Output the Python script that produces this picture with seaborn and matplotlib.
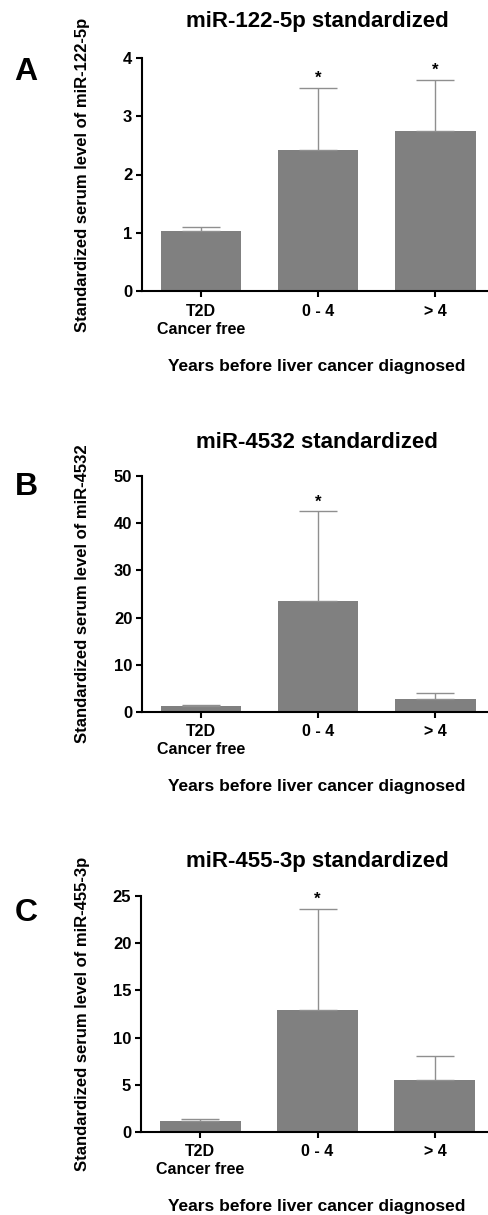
import numpy as np
import pandas as pd
import matplotlib
matplotlib.use("Agg")
import matplotlib.pyplot as plt
import seaborn as sns

# ---- data ----
categories = ["T2D\nCancer free", "0 - 4", "> 4"]

titles = ["miR-122-5p standardized", "miR-4532 standardized", "miR-455-3p standardized"]
ylabels = ["Standardized serum level of miR-122-5p",
           "Standardized serum level of miR-4532",
           "Standardized serum level of miR-455-3p"]
panel_letters = ["A", "B", "C"]

means_a = [1.03, 2.42, 2.74]
upper_a = [1.10, 3.48, 3.63]
means_b = [1.3, 23.5, 2.65]
upper_b = [1.5, 42.5, 3.95]
means_c = [1.13, 12.9, 5.47]
upper_c = [1.35, 23.6, 8.0]

stars_a = [False, True, True]
stars_b = [False, True, False]
stars_c = [False, True, False]

ymax = [4, 50, 25]
yticks = [[0, 1, 2, 3, 4], [0, 10, 20, 30, 40, 50], [0, 5, 10, 15, 20, 25]]
xlabel = "Years before liver cancer diagnosed"

# ---- style ----
sns.set_style("ticks")
plt.rcParams["font.family"] = ["Liberation Sans", "DejaVu Sans"]
plt.rcParams["font.weight"] = "bold"
plt.rcParams["text.color"] = "black"
plt.rcParams["axes.labelcolor"] = "black"
plt.rcParams["xtick.color"] = "black"
plt.rcParams["ytick.color"] = "black"

W, H = 489, 1215
fig = plt.figure(figsize=(W / 100, H / 100), dpi=100)

# axes pixel boxes: (left, top, right, bottom)
boxes = [(142, 58, 489, 291), (142, 476, 489, 712), (141, 896, 489, 1132)]
title_y = [22, 442, 862]
letter_y = [72, 487, 913]

panels = [(means_a, upper_a, stars_a), (means_b, upper_b, stars_b), (means_c, upper_c, stars_c)]

bar_color = "#808080"
err_color = "#8f8f8f"

for i, (means, upper, stars) in enumerate(panels):
    l, t, r, b = boxes[i]
    ax = fig.add_axes([l / W, 1 - b / H, (r - l) / W, (b - t) / H])
    df = pd.DataFrame({"group": categories, "value": means})
    sns.barplot(data=df, x="group", y="value", order=categories, color=bar_color,
                saturation=1, width=0.69, errorbar=None, ax=ax, edgecolor="none")
    xs = np.arange(len(categories))
    low = np.zeros(len(means))
    high = np.array(upper) - np.array(means)
    ax.errorbar(xs, means, yerr=[low, high], fmt="none", ecolor=err_color,
                elinewidth=1.0, capsize=13.5, capthick=1.0, zorder=1)
    for x, s, u in zip(xs, stars, upper):
        if s:
            ax.annotate("*", xy=(x, u), xytext=(0, 1.5), textcoords="offset points",
                        ha="center", va="bottom", fontsize=12, fontweight="bold")
    ax.set_xlim(-0.504, 2.46)
    ax.set_ylim(0, ymax[i])
    ax.set_yticks(yticks[i])
    ax.set_xlabel("")
    ax.set_ylabel("")
    sns.despine(ax=ax)
    for sp in ["left", "bottom"]:
        ax.spines[sp].set_linewidth(1.5)
        ax.spines[sp].set_color("black")
    ax.tick_params(axis="both", width=1.5, length=4, pad=3, colors="black")
    ax.tick_params(axis="x", pad=5)
    ax.tick_params(axis="y", labelsize=12)
    for lab in ax.get_yticklabels():
        lab.set_fontweight("bold")
    ax.set_xticks(xs)
    ax.set_xticklabels(categories, fontweight="bold", fontsize=11.5, linespacing=1.25)
    # title
    fig.text(317 / W, 1 - title_y[i] / H, titles[i], ha="center", va="center",
             fontsize=16, fontweight="bold")
    # y label
    fig.text(83 / W, 1 - (t + b) / 2 / H, ylabels[i], ha="center", va="center",
             rotation=90, fontsize=12, fontweight="bold")
    # x label
    fig.text(317 / W, 1 - (b + 75) / H, xlabel, ha="center", va="center",
             fontsize=12.5, fontweight="bold")
    # panel letter
    fig.text(26 / W, 1 - letter_y[i] / H, panel_letters[i], ha="center", va="center",
             fontsize=23, fontweight="bold")

fig.savefig("out.png", dpi=100)
